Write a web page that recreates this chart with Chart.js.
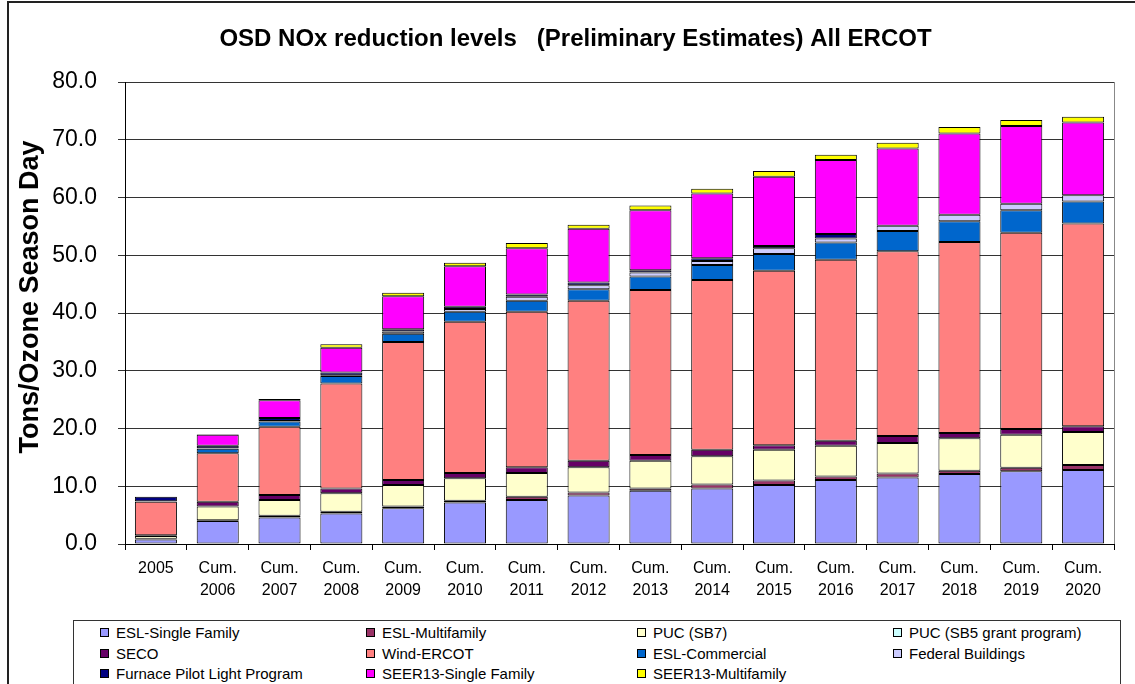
<!DOCTYPE html>
<html>
<head>
<meta charset="utf-8">
<script src="https://cdn.jsdelivr.net/npm/chart.js@4/dist/chart.umd.min.js"></script>
<style>
  html, body { margin: 0; padding: 0; background: #fff; }
  #wrap { position: relative; width: 1135px; height: 684px; overflow: hidden; font-family: "Liberation Sans", Arial, sans-serif; }
  #frame { position: absolute; left: 7px; top: 1px; width: 1140px; height: 700px; border: 2px solid #222; box-sizing: border-box; }
  #chart { position: absolute; left: 0; top: 0; }
  #legend { position: absolute; left: 73px; top: 620px; width: 1048px; height: 80px; border: 1px solid #333; box-sizing: border-box; background: #fff; }
  .item { position: absolute; font-size: 15px; color: #000; white-space: nowrap; line-height: 18px; }
  .item span.box { display: inline-block; width: 7px; height: 7px; border: 1px solid #000; margin-right: 7px; vertical-align: 1px; }
</style>
</head>
<body>
<div id="wrap">
  <div id="frame"></div>
  <canvas id="chart" width="1135" height="684"></canvas>
  <div id="legend"></div>
</div>
<script>
// Chart data
const chartTitle = 'OSD NOx reduction levels   (Preliminary Estimates) All ERCOT';
const yTitle = 'Tons/Ozone Season Day';
const years = [['2005'], ['Cum.', '2006'], ['Cum.', '2007'], ['Cum.', '2008'], ['Cum.', '2009'], ['Cum.', '2010'],
    ['Cum.', '2011'], ['Cum.', '2012'], ['Cum.', '2013'], ['Cum.', '2014'], ['Cum.', '2015'], ['Cum.', '2016'],
    ['Cum.', '2017'], ['Cum.', '2018'], ['Cum.', '2019'], ['Cum.', '2020']];

const eslSingleFamily = [0.8, 4.0, 4.6, 5.3, 6.2, 7.2, 7.6, 8.4, 9.2, 9.6, 10.2, 11.1, 11.5, 12.1, 12.6, 12.8];
const eslMultifamily  = [0.1, 0.1, 0.3, 0.3, 0.3, 0.3, 0.6, 0.5, 0.4, 0.7, 0.8, 0.6, 0.7, 0.6, 0.6, 0.9];
const pucSB7          = [0.5, 2.4, 2.7, 3.2, 3.7, 3.9, 4.1, 4.4, 4.8, 4.9, 5.3, 5.3, 5.3, 5.6, 5.7, 5.7];
const pucSB5          = [0, 0, 0, 0, 0, 0, 0, 0, 0, 0, 0, 0, 0, 0, 0, 0];
const seco            = [0.1, 0.8, 0.9, 0.8, 0.9, 0.9, 1.0, 1.1, 1.0, 1.1, 0.8, 0.9, 1.2, 0.9, 1.0, 1.0];
const windErcot       = [5.8, 8.4, 11.8, 18.2, 23.9, 26.2, 26.9, 27.7, 28.6, 29.4, 30.2, 31.3, 32.0, 33.1, 34.0, 35.1];
const eslCommercial   = [0.1, 0.8, 0.9, 1.3, 1.4, 1.7, 1.9, 2.0, 2.3, 2.6, 2.9, 3.0, 3.5, 3.6, 3.9, 3.8];
const federalBldgs    = [0, 0.1, 0.1, 0.1, 0.4, 0.5, 0.7, 0.7, 0.7, 0.7, 1.0, 0.7, 0.9, 1.1, 1.1, 1.1];
const furnacePilot    = [0.8, 0.4, 0.5, 0.5, 0.4, 0.4, 0.4, 0.5, 0.4, 0.5, 0.4, 0.8, 0, 0, 0, 0];
const seer13Single    = [0, 1.9, 3.1, 4.3, 5.7, 7.0, 8.0, 9.3, 10.4, 11.2, 12.0, 12.8, 13.4, 14.1, 13.5, 12.6];
const seer13Multi     = [0, 0.1, 0.2, 0.6, 0.6, 0.6, 0.9, 0.7, 0.8, 0.8, 1.0, 0.9, 1.0, 1.1, 1.0, 1.0];

const series = [
    { label: 'ESL-Single Family', data: eslSingleFamily, color: '#9999FF' },
    { label: 'ESL-Multifamily', data: eslMultifamily, color: '#993366' },
    { label: 'PUC (SB7)', data: pucSB7, color: '#FFFFCC' },
    { label: 'PUC (SB5 grant program)', data: pucSB5, color: '#CCFFFF' },
    { label: 'SECO', data: seco, color: '#660066' },
    { label: 'Wind-ERCOT', data: windErcot, color: '#FF8080' },
    { label: 'ESL-Commercial', data: eslCommercial, color: '#0066CC' },
    { label: 'Federal Buildings', data: federalBldgs, color: '#CCCCFF' },
    { label: 'Furnace Pilot Light Program', data: furnacePilot, color: '#000080' },
    { label: 'SEER13-Single Family', data: seer13Single, color: '#FF00FF' },
    { label: 'SEER13-Multifamily', data: seer13Multi, color: '#FFFF00' }
];

const fontFamily = '"Liberation Sans", Arial, sans-serif';

// Titles + right edge of plot area drawn by hand
const framePlugin = {
    id: 'framePlugin',
    beforeDatasetsDraw(chart) {
        const { ctx, chartArea } = chart;
        ctx.save();
        ctx.strokeStyle = '#888';
        ctx.lineWidth = 1;
        ctx.beginPath();
        ctx.moveTo(chartArea.right + 0.5, chartArea.top);
        ctx.lineTo(chartArea.right + 0.5, chartArea.bottom);
        ctx.stroke();
        ctx.restore();
    },
    afterDraw(chart) {
        const ctx = chart.ctx;
        ctx.save();
        ctx.fillStyle = '#000';
        ctx.textAlign = 'center';
        ctx.font = 'bold 24px ' + fontFamily;
        ctx.textBaseline = 'alphabetic';
        ctx.fillText(chartTitle, 575.5, 46);
        // y axis title
        ctx.translate(31, 297);
        ctx.rotate(-Math.PI / 2);
        ctx.textBaseline = 'middle';
        ctx.font = 'bold 27px ' + fontFamily;
        ctx.fillText(yTitle, 0, 0);
        ctx.restore();
    }
};

const ctx = document.getElementById('chart').getContext('2d');
const chart = new Chart(ctx, {
    type: 'bar',
    data: {
        labels: years,
        datasets: series.map(s => ({
            label: s.label,
            data: s.data,
            backgroundColor: s.color,
            borderColor: '#000',
            borderWidth: 1,
            borderSkipped: false,
            barPercentage: 0.68,
            categoryPercentage: 1.0
        }))
    },
    options: {
        responsive: false,
        animation: false,
        layout: { padding: { left: 0, right: 21, top: 82, bottom: 60 } },
        plugins: {
            legend: { display: false },
            title: { display: false },
            tooltip: { enabled: false }
        },
        scales: {
            x: {
                stacked: true,
                afterFit: (scale) => { scale.height = 80; },
                grid: { offset: true, drawOnChartArea: false, tickLength: 6, color: '#000', lineWidth: 1 },
                border: { color: '#000', width: 1 },
                ticks: {
                    color: '#000',
                    padding: 7,
                    maxRotation: 0,
                    autoSkip: false,
                    font: { family: fontFamily, size: 16, lineHeight: 1.4 }
                }
            },
            y: {
                stacked: true,
                min: 0,
                max: 80,
                afterFit: (scale) => { scale.width = 125; },
                grid: { color: '#333', lineWidth: 1, tickLength: 7 },
                border: { color: '#000', width: 1 },
                ticks: {
                    stepSize: 10,
                    padding: 21,
                    color: '#000',
                    font: { family: fontFamily, size: 23 },
                    callback: (v) => v.toFixed(1)
                }
            }
        }
    },
    plugins: [framePlugin]
});

// Legend box (4 columns, built from the datasets)
const legend = document.getElementById('legend');
const colX = [26, 292, 563, 819];
const rowY = [3, 24, 44];
series.forEach((s, i) => {
    const el = document.createElement('div');
    el.className = 'item';
    el.style.left = colX[i % 4] + 'px';
    el.style.top = rowY[Math.floor(i / 4)] + 'px';
    el.innerHTML = '<span class="box" style="background:' + s.color + '"></span>' + s.label;
    legend.appendChild(el);
});
</script>
</body>
</html>
